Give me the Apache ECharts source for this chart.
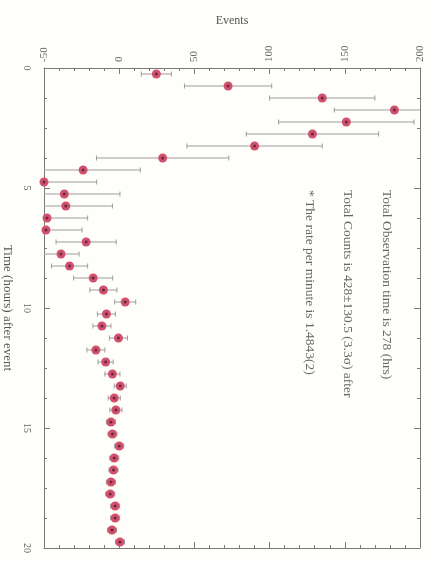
<!DOCTYPE html>
<html><head><meta charset="utf-8">
<script src="https://cdn.jsdelivr.net/npm/echarts@6/dist/echarts.min.js"></script>
<style>html,body{margin:0;padding:0;background:#fefefb}#c{width:438px;height:563px}</style>
</head><body><div id="c"></div>
<script>
// time bin centres (hours after event)
var timeBins = [0.25,0.75,1.25,1.75,2.25,2.75,3.25,3.75,4.25,4.75,5.25,5.75,6.25,6.75,7.25,7.75,8.25,8.75,9.25,9.75,
  10.25,10.75,11.25,11.75,12.25,12.75,13.25,13.75,14.25,14.75,15.25,15.75,16.25,16.75,17.25,17.75,18.25,18.75,19.25,19.75];
// events per bin
var events = [24.7,72.4,135,183,151,128.5,90,28.9,-24,-50,-36.5,-35.5,-48,-48.7,-22,-38.7,-33,-17.3,-10.5,4,
  -8.5,-11.5,-0.5,-15.5,-9,-4.5,0.7,-3.3,-2.2,-5.5,-4.5,0,-3.3,-3.8,-5.5,-6,-2.7,-2.7,-4.8,0.5];
// symmetric errors
var errors = [10,29,35,40,45,44,45,44,38,35,37,31,27,24,20,12,12,13,9,7,
  6,6,6,6,5,5,4,4,4,3,3,3,3,3,3,3,3,3,3,3];
var eventTicks = ['-50','0','50','100','150','200'];
var timeTicks = ['0','5','10','15','20'];
var notes = ['Total Observation time is 278 (hrs)',
             'Total Counts is 428\u00b1130.5 (3.3\u03c3) after',
             '* The rate per minute is 1.4843(2)'];

var serif = '"Liberation Serif","DejaVu Serif",serif';
var axisCol = '#7a7a7a';
var chart = echarts.init(document.getElementById('c'));
var pts = events.map(function(v,i){return [v,timeBins[i],errors[i]];});

function xAx(pos, showLab){
  return {type:'value', position:pos, min:-50, max:200, interval:50,
    name: showLab ? 'Events' : '', nameLocation:'middle', nameGap:41,
    nameTextStyle:{fontFamily:serif,fontSize:12,color:'#555'},
    axisLine:{show:true,onZero:false,lineStyle:{color:axisCol,width:1}},
    axisTick:{show:true,inside:true,length:6,lineStyle:{color:axisCol}},
    minorTick:{show:true,splitNumber:5,length:3,lineStyle:{color:axisCol}},
    axisLabel:{show:showLab,rotate:-90,fontFamily:serif,fontSize:11,color:'#666',margin:6,
      formatter:function(v){var i=Math.round((v+50)/50);return eventTicks[i]!==undefined?eventTicks[i]:v;}},
    splitLine:{show:false}};
}
function yAx(pos, showLab){
  return {type:'value', position:pos, min:0, max:20, interval:5, inverse:true,
    name: showLab ? 'Time (hours) after event' : '', nameLocation:'middle', nameGap:29, nameRotate:-90,
    nameTextStyle:{fontFamily:serif,fontSize:13,color:'#555'},
    axisLine:{show:true,onZero:false,lineStyle:{color:axisCol,width:1}},
    axisTick:{show:true,inside:true,length:6,lineStyle:{color:axisCol}},
    minorTick:{show:true,splitNumber:4,length:3,lineStyle:{color:axisCol}},
    axisLabel:{show:showLab,rotate:-90,fontFamily:serif,fontSize:10,color:'#666',margin:12,
      formatter:function(v){var i=Math.round(v/5);return timeTicks[i]!==undefined?timeTicks[i]:v;}},
    splitLine:{show:false}};
}

chart.setOption({
  backgroundColor:'#fefefb',
  animation:false,
  grid:{left:44,right:18,top:68,bottom:15,containLabel:false,outerBoundsMode:'none'},
  xAxis:[xAx('top',true), xAx('bottom',false)],
  yAxis:[yAx('left',true), yAx('right',false)],
  graphic: notes.map(function(t,i){
    return {type:'text', x:[387,348,310][i], y:190, rotation:-Math.PI/2,
      style:{text:t, fontFamily:serif, fontSize:13.5, fill:'#666', align:'left', verticalAlign:'middle'}};
  }),
  series:[
    {type:'custom', xAxisIndex:0, yAxisIndex:0, clip:true, z:2, data:pts,
     encode:{x:0,y:1},
     renderItem:function(params,api){
       var v=api.value(0), t=api.value(1), e=api.value(2);
       var lo=api.coord([v-e,t]), hi=api.coord([v+e,t]);
       var c=2.5, st={stroke:'#a39a9c',lineWidth:1};
       return {type:'group',children:[
         {type:'line',shape:{x1:lo[0],y1:lo[1],x2:hi[0],y2:hi[1]},style:st},
         {type:'line',shape:{x1:lo[0],y1:lo[1]-c,x2:lo[0],y2:lo[1]+c},style:st},
         {type:'line',shape:{x1:hi[0],y1:hi[1]-c,x2:hi[0],y2:hi[1]+c},style:st}
       ]};
     }},
    {type:'scatter', xAxisIndex:0, yAxisIndex:0, clip:false, z:3, data:pts,
     encode:{x:0,y:1}, symbol:'circle', symbolSize:9,
     itemStyle:{color:'#d0506e',opacity:1}},
    {type:'scatter', xAxisIndex:0, yAxisIndex:0, clip:false, z:4, data:pts,
     encode:{x:0,y:1}, symbol:'circle', symbolSize:3,
     itemStyle:{color:'#6a2a3a',opacity:1}}
  ]
});
</script></body></html>
